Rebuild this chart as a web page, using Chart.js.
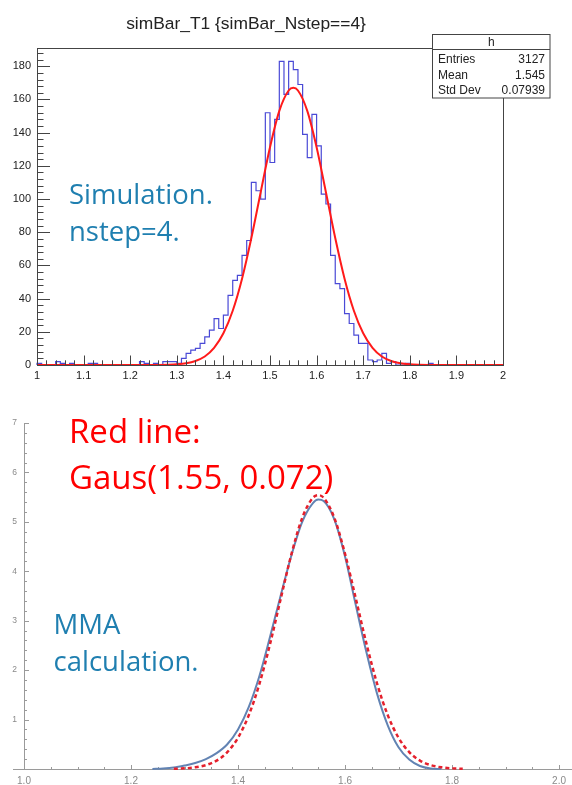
<!DOCTYPE html>
<html><head><meta charset="utf-8">
<script src="https://cdn.jsdelivr.net/npm/chart.js@4.4.1/dist/chart.umd.min.js"></script>
<style>
html,body{margin:0;padding:0;background:#fff;width:572px;height:785px;overflow:hidden}
#top{position:absolute;left:0;top:0;width:572px;height:400px}
#bot{position:absolute;left:0;top:400px;width:572px;height:385px}
.note{position:absolute;font-family:"Open Sans",sans-serif;white-space:nowrap;margin:0}
.blue{color:#1f7fb0;font-size:27.5px;line-height:36.7px}
.red{color:#ff0000;font-size:33px;line-height:46px}
</style></head><body>
<div id="top"><canvas id="c1" width="572" height="400"></canvas></div>
<div id="bot"><canvas id="c2" width="572" height="385"></canvas></div>
<div class="note blue" style="left:69px;top:176px">Simulation.<br>nstep=4.</div>
<div class="note red" style="left:69px;top:407.5px">Red line:<br>Gaus(1.55, 0.072)</div>
<div class="note blue" style="left:53.5px;top:606px">MMA<br>calculation.</div>
<script>
// ---------- Top panel: ROOT histogram (100 bins, 1.0 .. 2.0) ----------
const histTitle = 'simBar_T1 {simBar_Nstep==4}';
const histMin = 1.0;
const histMax = 2.0;
const histCounts = [
  0, 1, 0, 0, 0, 2, 1, 0, 1, 0,
  0, 0, 1, 1, 0, 0, 0, 0, 0, 0,
  0, 0, 0, 2, 1, 0, 1, 0, 2, 2,
  2, 1, 4, 7, 9, 10, 13, 17, 21, 28,
  22, 30, 42, 51, 54, 66, 75, 110, 105, 100,
  152, 122, 148, 183, 163, 183, 178, 169, 139, 125,
  151, 132, 103, 97, 66, 49, 46, 31, 25, 18,
  13, 13, 3, 2, 3, 7, 1, 2, 0, 0,
  1, 0, 0, 0, 0, 1, 0, 0, 0, 0,
  0, 0, 0, 0, 0, 0, 0, 0, 0, 0
];
const fitX = [1.00,1.10,1.20,1.26,1.28,1.30,1.32,1.34,1.36,1.38,1.40,1.42,1.44,1.46,1.48,1.50,1.52,1.54,1.55,1.56,1.58,1.60,1.62,1.64,1.66,1.68,1.70,1.72,1.74,1.76,1.78,1.80,1.82,1.84,1.90,2.00];
const fitY = [0,0,0,0.05,0.15,0.4,1.0,2.4,5.1,10.3,19.1,32.7,52.0,76.5,104.1,131.2,153.1,165.4,167,165.4,153.1,131.2,104.1,76.5,52.0,32.7,19.1,10.3,5.1,2.4,1.0,0.4,0.15,0.05,0,0];
const topXTicks = [1, 1.1, 1.2, 1.3, 1.4, 1.5, 1.6, 1.7, 1.8, 1.9, 2];
const topYTicks = [0, 20, 40, 60, 80, 100, 120, 140, 160, 180];
const statsName = 'h';
const statsLabels = ['Entries', 'Mean', 'Std Dev'];
const statsValues = ['3127', '1.545', '0.07939'];

// ---------- Bottom panel: MMA calculation vs Gaussian ----------
const mmaX = [1.24,1.26,1.28,1.30,1.32,1.34,1.36,1.38,1.40,1.42,1.44,1.46,1.48,1.50,1.52,1.54,1.55,1.56,1.58,1.60,1.62,1.64,1.66,1.68,1.70,1.72,1.74,1.76,1.78];
const mmaY = [0,0.01,0.03,0.07,0.12,0.20,0.32,0.50,0.80,1.25,1.88,2.68,3.52,4.33,5.00,5.38,5.45,5.42,5.05,4.30,3.32,2.36,1.52,0.88,0.44,0.19,0.06,0.01,0];
const gausX = [1.28,1.30,1.32,1.34,1.36,1.38,1.40,1.42,1.44,1.46,1.48,1.50,1.52,1.54,1.55,1.56,1.58,1.60,1.62,1.64,1.66,1.68,1.70,1.72,1.74,1.76,1.78,1.80,1.82];
const gausY = [0.005,0.013,0.034,0.079,0.170,0.341,0.633,1.085,1.724,2.536,3.454,4.353,5.080,5.487,5.54,5.487,5.080,4.353,3.454,2.536,1.724,1.085,0.633,0.341,0.170,0.079,0.034,0.013,0.005];
const botXTicks = [1.0, 1.2, 1.4, 1.6, 1.8, 2.0];
const botYTicks = [0, 1, 2, 3, 4, 5, 6, 7];

// ---------- build datasets ----------
const binW = (histMax - histMin) / histCounts.length;
const histPoints = histCounts.map((c, i) => ({x: histMin + i * binW, y: c}));
histPoints.push({x: histMax, y: histCounts[histCounts.length - 1]});
const fitPoints = fitX.map((x, i) => ({x, y: fitY[i]}));
const mmaPoints = mmaX.map((x, i) => ({x, y: mmaY[i]}));
const gausPoints = gausX.map((x, i) => ({x, y: gausY[i]}));

const rootFont = '"Liberation Sans", Arial, Helvetica, sans-serif';

const rootDecor = {
  id: 'rootDecor',
  afterDatasetsDraw(chart) {
    const {ctx, chartArea: a, scales: {x, y}} = chart;
    ctx.save();
    ctx.strokeStyle = '#444';
    ctx.lineWidth = 1;
    ctx.strokeRect(Math.round(a.left) + 0.5, Math.round(a.top) + 0.5, Math.round(a.right - a.left), Math.round(a.bottom - a.top));
    ctx.beginPath();
    for (let k = 0; k * 4 <= y.max; k++) {
      const v = k * 4, py = Math.round(y.getPixelForValue(v)) + 0.5;
      const len = (v % 20 === 0) ? 13 : 6.5;
      ctx.moveTo(a.left, py); ctx.lineTo(a.left + len, py);
    }
    for (let k = 0; k <= 50; k++) {
      const v = x.min + k * 0.02, px = Math.round(x.getPixelForValue(v)) + 0.5;
      const len = (k % 5 === 0) ? 9.5 : 4.7;
      ctx.moveTo(px, a.bottom); ctx.lineTo(px, a.bottom - len);
    }
    ctx.stroke();
    ctx.fillStyle = '#222';
    ctx.font = '17.4px ' + rootFont;
    ctx.textAlign = 'center';
    ctx.textBaseline = 'alphabetic';
    ctx.fillText(histTitle, 246, 28.5);
    const bx = 432.5, by = 34.5, bw = 117.5, bh = 63.5;
    ctx.fillStyle = '#fff';
    ctx.fillRect(bx, by, bw, bh);
    ctx.strokeStyle = '#444';
    ctx.strokeRect(bx, by, bw, bh);
    ctx.beginPath(); ctx.moveTo(bx, 49.5); ctx.lineTo(bx + bw, 49.5); ctx.stroke();
    ctx.fillStyle = '#222';
    ctx.font = '12px ' + rootFont;
    ctx.textAlign = 'center';
    ctx.fillText(statsName, bx + bw / 2, 46);
    const rowsY = [63, 78.5, 94];
    statsLabels.forEach((lab, i) => {
      ctx.textAlign = 'left'; ctx.fillText(lab, 438, rowsY[i]);
      ctx.textAlign = 'right'; ctx.fillText(statsValues[i], 545, rowsY[i]);
    });
    ctx.restore();
  }
};

new Chart(document.getElementById('c1'), {
  type: 'line',
  data: {
    datasets: [
      {data: fitPoints, borderColor: '#ff1a1a', borderWidth: 2, pointRadius: 0, cubicInterpolationMode: 'monotone', fill: false, clip: false},
      {data: histPoints, borderColor: '#4a4ad6', borderWidth: 1.2, pointRadius: 0, stepped: 'after', fill: false, clip: false}
    ]
  },
  options: {
    responsive: false, animation: false, devicePixelRatio: 1,
    layout: {padding: {left: 0, top: 48, right: 69, bottom: 0}},
    plugins: {legend: {display: false}, tooltip: {enabled: false}, title: {display: false}},
    scales: {
      x: {
        type: 'linear', min: histMin, max: histMax,
        border: {display: false}, grid: {display: false, drawTicks: false},
        afterBuildTicks: s => { s.ticks = topXTicks.map(v => ({value: v})); },
        afterFit: s => { s.height = 35; },
        ticks: {autoSkip: false, maxRotation: 0, padding: 4, color: '#222', font: {family: rootFont, size: 11}, callback: v => String(v)}
      },
      y: {
        type: 'linear', min: 0, max: 191,
        border: {display: false}, grid: {display: false, drawTicks: false},
        afterBuildTicks: s => { s.ticks = topYTicks.map(v => ({value: v})); },
        afterFit: s => { s.width = 37; },
        ticks: {padding: 6, color: '#222', font: {family: rootFont, size: 11}, callback: v => String(v)}
      }
    }
  },
  plugins: [rootDecor]
});

const mmaDecor = {
  id: 'mmaDecor',
  beforeDatasetsDraw(chart) {
    const {ctx, scales: {x, y}} = chart;
    ctx.save();
    ctx.strokeStyle = '#9a9a9a';
    ctx.lineWidth = 1;
    const y0 = Math.round(y.getPixelForValue(0)) + 0.5;
    const x0 = Math.round(x.getPixelForValue(1.0)) + 0.5;
    ctx.beginPath();
    ctx.moveTo(13, y0); ctx.lineTo(572, y0);
    ctx.moveTo(x0, y0); ctx.lineTo(x0, Math.round(y.getPixelForValue(7)));
    for (let k = 0; k <= 35; k++) {
      const v = k * 0.2, py = Math.round(y.getPixelForValue(v)) + 0.5;
      const len = (k % 5 === 0) ? 4.5 : 2.5;
      ctx.moveTo(x0, py); ctx.lineTo(x0 + len, py);
    }
    for (let k = 0; k <= 20; k++) {
      const v = 1 + k * 0.05, px = Math.round(x.getPixelForValue(v)) + 0.5;
      const len = (k % 4 === 0) ? 4.5 : 2.5;
      ctx.moveTo(px, y0); ctx.lineTo(px, y0 - len);
    }
    ctx.stroke();
    ctx.restore();
  }
};

new Chart(document.getElementById('c2'), {
  type: 'line',
  data: {
    datasets: [
      {data: gausPoints, borderColor: '#e4202c', borderWidth: 2.5, borderDash: [4, 3], pointRadius: 0, cubicInterpolationMode: 'monotone', fill: false, clip: false},
      {data: mmaPoints, borderColor: '#6283b3', borderWidth: 2, pointRadius: 0, cubicInterpolationMode: 'monotone', fill: false, clip: false}
    ]
  },
  options: {
    responsive: false, animation: false, devicePixelRatio: 1,
    layout: {padding: {left: 0, top: 23, right: 10, bottom: 0}},
    plugins: {legend: {display: false}, tooltip: {enabled: false}},
    scales: {
      x: {
        type: 'linear', min: 1.0, max: 2.0,
        border: {display: false}, grid: {display: false, drawTicks: false},
        afterBuildTicks: s => { s.ticks = botXTicks.map(v => ({value: v})); },
        afterFit: s => { s.height = 16; },
        ticks: {autoSkip: false, maxRotation: 0, padding: 6, color: '#8a8a8a', font: {family: rootFont, size: 10}, callback: v => v.toFixed(1)}
      },
      y: {
        type: 'linear', min: 0, max: 7,
        border: {display: false}, grid: {display: false, drawTicks: false},
        afterBuildTicks: s => { s.ticks = botYTicks.map(v => ({value: v})); },
        afterFit: s => { s.width = 24; },
        ticks: {padding: 7, color: '#8a8a8a', font: {family: rootFont, size: 8.5}, callback: v => v === 0 ? '' : String(v)}
      }
    }
  },
  plugins: [mmaDecor]
});
</script>
</body></html>
